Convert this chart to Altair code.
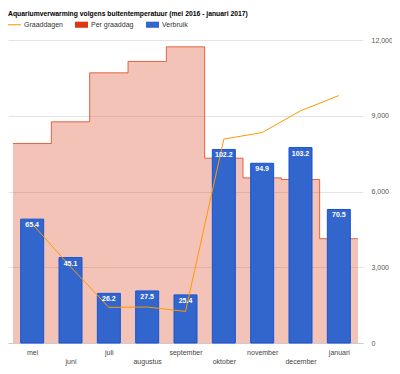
import altair as alt
import pandas as pd

# ---- data ----
months = ["mei", "juni", "juli", "augustus", "september",
          "oktober", "november", "december", "januari"]
verbruik = [65.4, 45.1, 26.2, 27.5, 25.4, 102.2, 94.9, 103.2, 70.5]
verbruik_factor = 75  # bars are drawn at verbruik x 75 on the shared axis
graaddagen = [4720, 3020, 1410, 1425, 1250, 8075, 8335, 9195, 9800]
per_graaddag = [7900, 8760, 10700, 11150, 11730, 7320, 6540, 6475, 4130]
y_ticks = [0, 3000, 6000, 9000, 12000]
series = ["Graaddagen", "Per graaddag", "Verbruik"]
colors = ["#FF9900", "#DC3912", "#3366CC"]
title_text = "Aquariumverwarming volgens buitentemperatuur (mei 2016 - januari 2017)"

FONT = "Liberation Sans"
n = len(months)
idx = list(range(n))

bars_df = pd.DataFrame({"i": idx, "maand": months, "verbruik": verbruik})
line_df = pd.DataFrame({"i": idx, "graaddagen": graaddagen})
# step area spans each month's full band: left edges plus the final right edge
area_df = pd.DataFrame({
    "x": [i - 0.5 for i in idx] + [n - 0.5],
    "y": per_graaddag + [per_graaddag[-1]],
})
legend_df = pd.DataFrame({"s": series})

xscale = alt.Scale(domain=[-0.5, n - 0.5], nice=False, zero=False)
yscale = alt.Scale(domain=[0, 12000], nice=False)

label_expr = "[" + ",".join("'%s'" % m for m in months) + "][round(datum.value)]"

x_axis = alt.Axis(
    values=idx, labelExpr=label_expr, grid=False, ticks=False,
    domain=True, domainColor="#cccccc", labelFontSize=7, labelColor="#444444",
    labelFont=FONT, labelAngle=0,
    labelPadding={"condition": {"test": "datum.value % 2 == 1", "value": 14}, "value": 5},
    title=None,
)
y_axis = alt.Axis(
    orient="right", values=y_ticks, format=",.0f", ticks=False, domain=False,
    gridColor="#e4e4e4", labelFontSize=7, labelColor="#555555", labelFont=FONT,
    labelPadding=8, title=None,
)

def X(f):
    return alt.X(f, scale=xscale, axis=x_axis, title=None)

def Y(f):
    return alt.Y(f, scale=yscale, axis=y_axis, title=None)

area = alt.Chart(area_df).mark_area(
    interpolate="step-after", color="#DC3912", opacity=0.3,
    line={"color": "#DC3912", "strokeWidth": 1, "opacity": 0.75},
).encode(x=X("x:Q"), y=Y("y:Q"))

bars = alt.Chart(bars_df).transform_calculate(
    h="datum.verbruik * %d" % verbruik_factor
).mark_bar(size=23, color="#3366CC", stroke="#1553d6", strokeWidth=1).encode(
    x=X("i:Q"), y=Y("h:Q"),
)

labels = alt.Chart(bars_df).transform_calculate(
    h="datum.verbruik * %d" % verbruik_factor
).mark_text(
    color="white", fontSize=7, fontWeight="bold", font=FONT,
    baseline="top", dy=2,
).encode(
    x=X("i:Q"), y=Y("h:Q"),
    text=alt.Text("verbruik:Q", format=".1f"),
)

line = alt.Chart(line_df).mark_line(color="#FF9900", strokeWidth=1).encode(
    x=X("i:Q"), y=Y("graaddagen:Q"),
)

line_path = "M-1,-0.08H1V0.08H-1Z"
rect_path = "M-1,-0.47H1V0.47H-1Z"
legend_layer = alt.Chart(legend_df).mark_point(filled=True, opacity=0, size=169).encode(
    color=alt.Color("s:N", scale=alt.Scale(domain=series, range=colors), title=None),
    shape=alt.Shape("s:N", scale=alt.Scale(domain=series, range=[line_path, rect_path, rect_path]), title=None),
)

chart = alt.layer(area, bars, line, labels, legend_layer).properties(
    width=355, height=303,
    title=alt.TitleParams(title_text, anchor="start", fontSize=6.8, fontWeight="bold",
                          color="#000000", font=FONT, offset=0, frame="group"),
    autosize=alt.AutoSizeParams(type="none"),
    padding={"left": 0, "top": 32, "right": 29, "bottom": 23},
).configure_view(stroke=None).configure_legend(
    orient="none", legendX=0, legendY=-22, direction="horizontal",
    symbolOpacity=1, symbolStrokeWidth=0, symbolSize=169,
    labelFontSize=7, labelColor="#333333", labelFont=FONT,
    labelOffset=3, columnPadding=12,
)

chart.save("out.html", embed_options={"renderer": "svg", "actions": False})
